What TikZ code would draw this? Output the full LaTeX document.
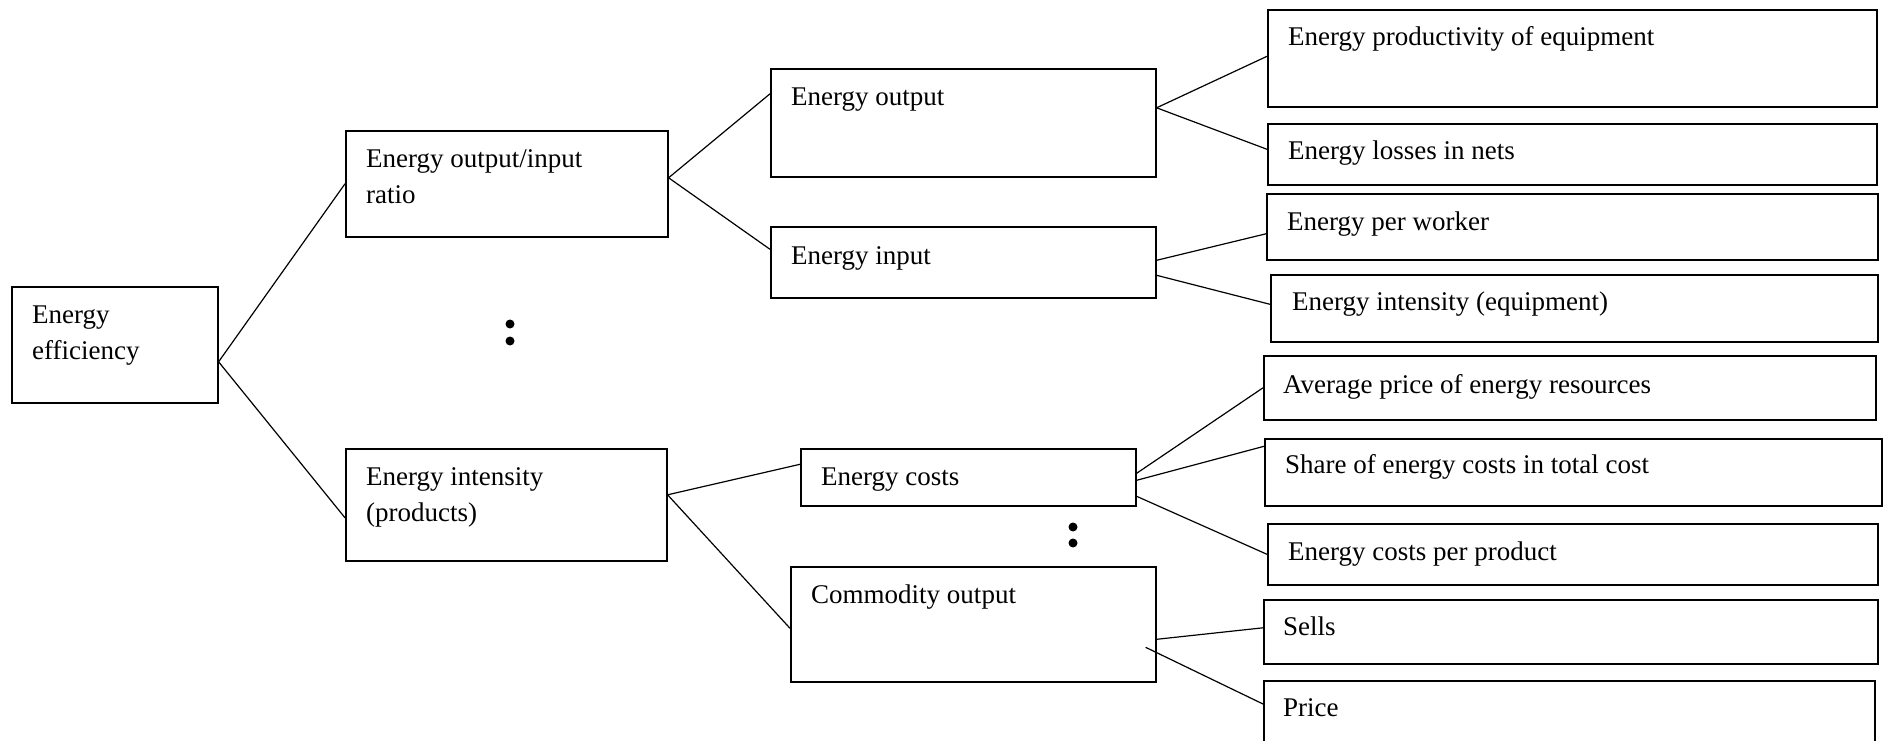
\documentclass[tikz,border=0pt]{standalone}
\usepackage{fontspec}
\setmainfont{Liberation Serif}
\usetikzlibrary{calc, positioning}

\tikzset{
    box/.style={draw, line width=1.6pt, inner sep=0pt, anchor=north west},
    txt/.style={anchor=base west, inner sep=0pt, align=left, font=\fontsize{27}{36}\selectfont},
    link/.style={line width=1.2pt},
    dot/.style={circle, fill=black, inner sep=0pt, minimum size=9pt}
}

\begin{document}
\begin{tikzpicture}[x=1pt, y=-1pt]
    \useasboundingbox (0, 0) rectangle (1889, 741);
    \clip (0, 0) rectangle (1889, 741);

    % level 1 and 2 (two lines: base is on the last line)
    \node[box, minimum width=206pt, minimum height=116pt] (root) at (11, 286) {};
    \node[txt] (root-t) at ($(root.north west)+(21, 73)$) {Energy\\efficiency};
    \node[box, minimum width=322pt, minimum height=106pt] (ratio) at (345, 130) {};
    \node[txt] (ratio-t) at ($(ratio.north west)+(21, 73)$) {Energy output/input\\ratio};
    \node[box, minimum width=321pt, minimum height=112pt] (intens) at (345, 448) {};
    \node[txt] (intens-t) at ($(intens.north west)+(21, 73)$) {Energy intensity\\(products)};

    % level 3
    \node[box, minimum width=385pt, minimum height=108pt] (eout) at (770, 68) {};
    \node[txt] (eout-t) at ($(eout.north west)+(21, 38)$) {Energy output};
    \node[box, minimum width=385pt, minimum height=71pt] (ein) at (770, 226) {};
    \node[txt] (ein-t) at ($(ein.north west)+(21, 38)$) {Energy input};
    \node[box, minimum width=335pt, minimum height=57pt] (ecost) at (800, 448) {};
    \node[txt] (ecost-t) at ($(ecost.north west)+(21, 37)$) {Energy costs};
    \node[box, minimum width=365pt, minimum height=115pt] (commod) at (790, 566) {};
    \node[txt] (commod-t) at ($(commod.north west)+(21, 37)$) {Commodity output};

    % level 4
    \node[box, minimum width=609pt, minimum height=97pt] (prod) at (1267, 9) {};
    \node[txt] (prod-t) at ($(prod.north west)+(21, 37)$) {Energy productivity of equipment};
    \node[box, minimum width=609pt, minimum height=61pt] (loss) at (1267, 123) {};
    \node[txt] (loss-t) at ($(loss.north west)+(21, 37)$) {Energy losses in nets};
    \node[box, minimum width=611pt, minimum height=66pt] (worker) at (1266, 193) {};
    \node[txt] (worker-t) at ($(worker.north west)+(21, 37)$) {Energy per worker};
    \node[box, minimum width=607pt, minimum height=67pt] (inteq) at (1270, 274) {};
    \node[txt] (inteq-t) at ($(inteq.north west)+(22, 36)$) {Energy intensity (equipment)};
    \node[box, minimum width=612pt, minimum height=64pt] (avg) at (1263, 355) {};
    \node[txt] (avg-t) at ($(avg.north west)+(20, 38)$) {Average price of energy resources};
    \node[box, minimum width=617pt, minimum height=67pt] (share) at (1264, 438) {};
    \node[txt] (share-t) at ($(share.north west)+(21, 35)$) {Share of energy costs in total cost};
    \node[box, minimum width=610pt, minimum height=61pt] (perprod) at (1267, 523) {};
    \node[txt] (perprod-t) at ($(perprod.north west)+(21, 37)$) {Energy costs per product};
    \node[box, minimum width=614pt, minimum height=64pt] (sells) at (1263, 599) {};
    \node[txt] (sells-t) at ($(sells.north west)+(20, 36)$) {Sells};
    \node[box, minimum width=611pt, minimum height=90pt] (price) at (1263, 680) {};
    \node[txt] (price-t) at ($(price.north west)+(20, 36)$) {Price};

    % dots
    \node[dot] (dots1a) at (510, 324) {};
    \node[dot] (dots1b) at (510, 341) {};
    \node[dot] (dots2a) at (1073, 527) {};
    \node[dot] (dots2b) at (1073, 543) {};

    % connectors
    \draw[link] ($(root.east)+(0, 17)$) -- (ratio.west);
    \draw[link] ($(root.east)+(0, 17)$) -- ($(intens.west)+(0, 13)$);
    \draw[link] ($(ratio.east)+(0, -6)$) -- ($(eout.west)+(0, -29)$);
    \draw[link] ($(ratio.east)+(0, -6)$) -- ($(ein.west)+(0, -13)$);
    \draw[link] ($(intens.east)+(0, -10)$) -- ($(ecost.west)+(0, -13)$);
    \draw[link] ($(intens.east)+(0, -10)$) -- ($(commod.west)+(0, 4)$);
    \draw[link] ($(eout.east)+(0, -15)$) -- ($(prod.west)+(0, -2)$);
    \draw[link] ($(eout.east)+(0, -15)$) -- ($(loss.west)+(0, -5)$);
    \draw[link] ($(ein.east)+(0, -2)$) -- ($(worker.west)+(0, 7)$);
    \draw[link] ($(ein.east)+(0, 13)$) -- ($(inteq.west)+(0, -4)$);
    \draw[link] ($(ecost.east)+(0, -4)$) -- (avg.west);
    \draw[link] ($(ecost.east)+(0, 3)$) -- ($(share.west)+(0, -26)$);
    \draw[link] ($(ecost.east)+(0, 19)$) -- (perprod.west);
    \draw[link] ($(commod.east)+(0, 15)$) -- ($(sells.west)+(0, -4)$);
    \draw[link] ($(commod.east)+(-11, 23)$) -- ($(price.north west)+(0, 24)$);
\end{tikzpicture}
\end{document}
